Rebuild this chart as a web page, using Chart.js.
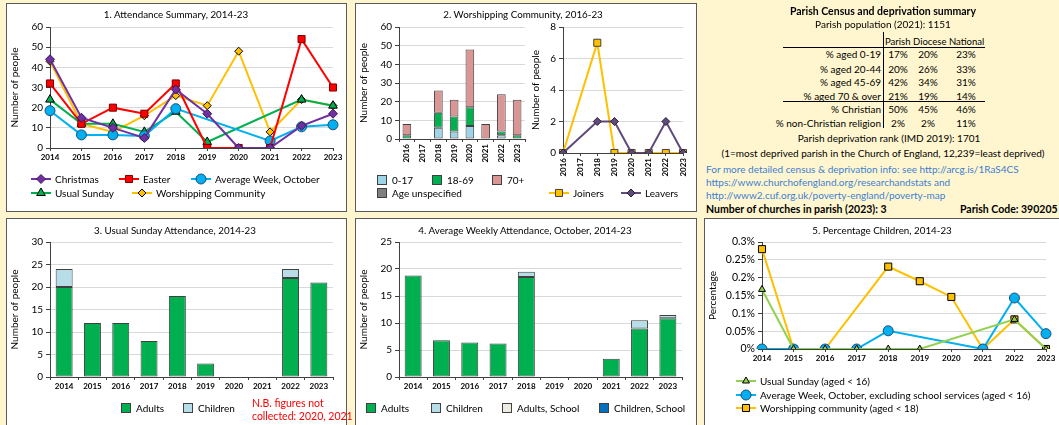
<!DOCTYPE html>
<html>
<head>
<meta charset="utf-8">
<script src="https://cdn.jsdelivr.net/npm/chart.js@4.4.0/dist/chart.umd.min.js"></script>
<style>
body { margin:0; width:1059px; height:425px; background:#fff6cf; position:relative; overflow:hidden; font-family:Lato, "DejaVu Sans", sans-serif; color:#000; }
.panel { position:absolute; background:#fff; border:1px solid #5a5a5a; box-sizing:border-box; }
.t { position:absolute; white-space:nowrap; font-size:10px; line-height:12px; }
.title { position:absolute; white-space:nowrap; font-size:9.8px; line-height:12px; transform:translateX(-50%); }
.leg { position:absolute; white-space:nowrap; font-size:10px; line-height:14px; display:flex; align-items:center; }
.box { display:inline-block; width:8px; height:8px; border:1px solid #404040; margin-right:5px; }
.blue { color:#3b7fd4; }
.b { font-weight:bold; }
canvas { position:absolute; }
</style>
</head>
<body>

<div class="panel" style="left:6px;top:3px;width:341px;height:209px"></div>
<div class="panel" style="left:355px;top:3px;width:342px;height:209px"></div>
<div class="panel" style="left:6px;top:218px;width:341px;height:220px"></div>
<div class="panel" style="left:355px;top:218px;width:342px;height:220px"></div>
<div class="panel" style="left:704px;top:218px;width:370px;height:220px"></div>

<canvas id="g1" width="339" height="206" style="left:7px;top:4px"></canvas>
<canvas id="g2a" width="180" height="206" style="left:356px;top:4px"></canvas>
<canvas id="g2b" width="168" height="206" style="left:528px;top:4px"></canvas>
<canvas id="g3" width="339" height="206" style="left:7px;top:219px"></canvas>
<canvas id="g4" width="341" height="206" style="left:356px;top:219px"></canvas>
<canvas id="g5" width="354" height="206" style="left:705px;top:219px"></canvas>

<div class="title" style="left:176px;top:8px">1. Attendance Summary, 2014-23</div>
<div class="title" style="left:523px;top:8px">2. Worshipping Community, 2016-23</div>
<div class="title" style="left:175px;top:224px">3. Usual Sunday Attendance, 2014-23</div>
<div class="title" style="left:525px;top:224px">4. Average Weekly Attendance, October, 2014-23</div>
<div class="title" style="left:882px;top:224px">5. Percentage Children, 2014-23</div>

<!-- census table -->
<div class="title b" style="left:883px;top:5px;font-size:10.5px">Parish Census and deprivation summary</div>
<div class="title" style="left:883px;top:18px;font-size:10px">Parish population (2021): 1151</div>
<div style="position:absolute;left:883px;top:32px;width:1px;height:96px;background:#000"></div>
<div style="position:absolute;left:783px;top:47px;width:202px;height:1px;background:#000"></div>
<div style="position:absolute;left:783px;top:101px;width:202px;height:1px;background:#000"></div>
<div id="table"></div>
<div class="title" style="left:889px;top:132px;font-size:10px">Parish deprivation rank (IMD 2019): 1701</div>
<div class="title" style="left:883px;top:147px;font-size:10px">(1=most deprived parish in the Church of England, 12,239=least deprived)</div>
<div class="t blue" style="left:706px;top:163px">For more detailed census &amp; deprivation info: see http://arcg.is/1RaS4CS</div>
<div class="t blue" style="left:706px;top:176px">https://www.churchofengland.org/researchandstats and</div>
<div class="t blue" style="left:706px;top:189px">http://www2.cuf.org.uk/poverty-england/poverty-map</div>
<div class="t b" style="left:706px;top:203px;font-size:10.5px">Number of churches in parish (2023): 3</div>
<div class="t b" style="left:960px;top:203px;font-size:10.5px">Parish Code: 390205</div>

<div class="t" style="left:252px;top:397px;color:#ff0000;font-size:10.5px;line-height:13px">N.B. figures not<br>collected: 2020, 2021</div>

<div id="legends"></div>

<script>
// ---- data ----
var years = ['2014', '2015', '2016', '2017', '2018', '2019', '2020', '2021', '2022', '2023'];
var christmas = [44, 15, 10, 5, 29, 17, 0, 0, 11, 17];
var easter = [32, 12, 20, 17, 32, 0, 0, 0, 54, 30];
var avgWeek = [18.5, 6.5, 6.5, 6, 19.5, null, null, 3.5, 10.5, 11.5];
var usualSunday = [24, 12, 12, 8, 18, 3, null, null, 24, 21];
var worshipComm = [43, 12, 8, 16, 26, 21, 48, 8, 24, 21];

var wcYears = ['2016', '2017', '2018', '2019', '2020', '2021', '2022', '2023'];
var wc0to17 = [null, null, 6, 4, 7, null, 2, null];
var wc18to69 = [2, null, 8, 8, 10, null, 2, 2];
var wc70plus = [6, null, 12, 9, 31, 8, 20, 19];
var wcUnspec = [null, null, null, null, null, null, null, null];
var joiners = [0, null, 7, 0, 0, 0, 0, 0];
var leavers = [0, null, 2, 2, 0, 0, 2, 0];

var usAdults = [20, 12, 12, 8, 18, 3, null, null, 22, 21];
var usChildren = [4, null, null, null, null, null, null, null, 2, null];

var awAdults = [18.8, 6.8, 6.4, 6.2, 18.5, null, null, 3.4, 9, 10.9];
var awChildren = [null, null, null, null, 1, null, null, null, 1.5, 0.6];
var awAdultsSchool = [null, null, null, null, null, null, null, null, null, null];
var awChildrenSchool = [null, null, null, null, null, null, null, null, null, null];

var pcSunday = [0.167, 0, 0, 0, 0, 0, null, null, 0.083, 0];
var pcAvgWeek = [0, 0, 0, 0, 0.051, null, null, 0, 0.143, 0.043];
var pcWorship = [0.28, 0, 0, null, 0.231, 0.19, 0.146, 0, 0.083, 0];

var tableRows = ['% aged 0-19', '% aged 20-44', '% aged 45-69', '% aged 70 & over', '% Christian', '% non-Christian religion'];
var parishPct = ['17%', '20%', '42%', '21%', '50%', '2%'];
var diocesePct = ['20%', '26%', '34%', '19%', '45%', '2%'];
var nationalPct = ['23%', '33%', '31%', '14%', '46%', '11%'];

// ---- colours ----
var GREEN = '#00b050', LBLUE = '#b7dee8', SKY = '#00b0f0', GOLD = '#ffc000', RED = '#ff0000', PURPLE = '#7030a0';
var AXIS = '#404040', GRID = '#d9d9d9';

Chart.defaults.font.family = 'Lato, "DejaVu Sans", sans-serif';
Chart.defaults.color = '#000';
Chart.defaults.animation = false;
Chart.defaults.plugins.legend.display = false;
Chart.defaults.plugins.tooltip.enabled = false;

// table
var tbl = '';
tbl += '<div class="t" style="left:885px;top:36px;font-size:9.5px">Parish</div>';
tbl += '<div class="t" style="left:913px;top:36px;font-size:9.5px">Diocese</div>';
tbl += '<div class="t" style="left:949px;top:36px;font-size:9.5px">National</div>';
var rowY = [48, 63, 76, 90, 103, 117];
for (var i = 0; i < tableRows.length; i++) {
  tbl += '<div class="t" style="right:' + (1059 - 881) + 'px;top:' + rowY[i] + 'px">' + tableRows[i].replace('&', '&amp;') + '</div>';
  tbl += '<div class="title" style="left:898px;top:' + rowY[i] + 'px;font-size:10px">' + parishPct[i] + '</div>';
  tbl += '<div class="title" style="left:928px;top:' + rowY[i] + 'px;font-size:10px">' + diocesePct[i] + '</div>';
  tbl += '<div class="title" style="left:966px;top:' + rowY[i] + 'px;font-size:10px">' + nationalPct[i] + '</div>';
}
document.getElementById('table').innerHTML = tbl;

// ---- axis helpers ----
function yAxis(max, step, width, title, fmt) {
  return {
    min: 0, max: max, stacked: true,
    ticks: { stepSize: step, font: { size: 10 }, padding: 3, callback: fmt || function (v) { return v; } },
    grid: { color: GRID, tickColor: AXIS, tickLength: 4 },
    border: { color: AXIS },
    title: { display: true, text: title, font: { size: 10 }, padding: { top: 2, bottom: 2 } },
    afterFit: function (s) { s.width = width; }
  };
}
function xAxis(offset, rot, height) {
  return {
    offset: offset, stacked: true,
    ticks: { font: { size: 8, weight: 'bold' }, maxRotation: rot, minRotation: rot, autoSkip: false, padding: 2 },
    grid: { drawOnChartArea: false, tickColor: AXIS, tickLength: 3 },
    border: { color: AXIS },
    afterFit: function (s) { s.height = height; }
  };
}
function line(label, data, color, fill, border, style, r) {
  return {
    label: label, data: data, borderColor: color, borderWidth: 2,
    pointStyle: style, pointRadius: r, pointBackgroundColor: fill,
    pointBorderColor: border, pointBorderWidth: 1, spanGaps: true, tension: 0
  };
}
function bar(label, data, color) {
  return {
    label: label, data: data, backgroundColor: color, borderColor: AXIS,
    borderWidth: 1, borderSkipped: false, barPercentage: 0.6, categoryPercentage: 1
  };
}

// ---- chart 1 ----
var x1 = xAxis(false, 0, 14);
x1.stacked = false;
var y1 = yAxis(60, 10, 43, 'Number of people');
y1.stacked = false;
var g1 = document.getElementById('g1').getContext('2d');
var myG1 = new Chart(g1, {
  type: 'line',
  data: {
    labels: years,
    datasets: [
      line('Christmas', christmas, PURPLE, PURPLE, '#3d1a5b', 'rectRot', 4.5),
      line('Easter', easter, RED, RED, '#7a0000', 'rect', 5),
      line('Average Week, October', avgWeek, SKY, SKY, '#1f4e79', 'circle', 5),
      line('Usual Sunday', usualSunday, GREEN, GREEN, '#000', 'triangle', 5),
      line('Worshipping Community', worshipComm, GOLD, GOLD, '#000', 'rectRot', 4)
    ]
  },
  options: {
    responsive: false,
    layout: { padding: { left: 0, top: 23, right: 13, bottom: 48 } },
    scales: { x: x1, y: y1 }
  }
});

// ---- chart 2 ----
var g2a = document.getElementById('g2a').getContext('2d');
var ds2a = [
  bar('0-17', wc0to17, '#9fd3e6'),
  bar('18-69', wc18to69, GREEN),
  bar('70+', wc70plus, '#d99694'),
  bar('Age unspecified', wcUnspec, '#7f7f7f')
];
ds2a.forEach(function (d) { d.barPercentage = 0.55; });
var myG2a = new Chart(g2a, {
  type: 'bar',
  data: { labels: wcYears, datasets: ds2a },
  options: {
    responsive: false,
    layout: { padding: { left: 0, top: 23, right: 11, bottom: 43 } },
    scales: { x: xAxis(true, 90, 28), y: yAxis(60, 10, 43, 'Number of people') }
  }
});

var x2b = xAxis(false, 90, 28);
x2b.stacked = false;
var y2b = yAxis(8, 2, 35, 'Number of people');
y2b.stacked = false;
var g2b = document.getElementById('g2b').getContext('2d');
var myG2b = new Chart(g2b, {
  type: 'line',
  data: {
    labels: wcYears,
    datasets: [
      line('Leavers', leavers, '#604a7b', '#604a7b', '#2b2038', 'rectRot', 4),
      line('Joiners', joiners, GOLD, GOLD, '#404040', 'rect', 5)
    ]
  },
  options: {
    responsive: false,
    layout: { padding: { left: 0, top: 23, right: 13, bottom: 29 } },
    scales: { x: x2b, y: y2b }
  }
});

// ---- chart 3 ----
var g3 = document.getElementById('g3').getContext('2d');
var myG3 = new Chart(g3, {
  type: 'bar',
  data: {
    labels: years,
    datasets: [bar('Adults', usAdults, GREEN), bar('Children', usChildren, LBLUE)]
  },
  options: {
    responsive: false,
    layout: { padding: { left: 0, top: 23, right: 13, bottom: 34 } },
    scales: { x: xAxis(true, 0, 14), y: yAxis(30, 5, 43, 'Number of people') }
  }
});

// ---- chart 4 ----
var g4 = document.getElementById('g4').getContext('2d');
var myG4 = new Chart(g4, {
  type: 'bar',
  data: {
    labels: years,
    datasets: [
      bar('Adults', awAdults, GREEN),
      bar('Children', awChildren, LBLUE),
      bar('Adults, School', awAdultsSchool, '#eeece1'),
      bar('Children, School', awChildrenSchool, '#0070c0')
    ]
  },
  options: {
    responsive: false,
    layout: { padding: { left: 0, top: 23, right: 15, bottom: 34 } },
    scales: { x: xAxis(true, 0, 14), y: yAxis(25, 5, 43, 'Number of people') }
  }
});

// ---- chart 5 ----
var g5 = document.getElementById('g5').getContext('2d');
var y5 = yAxis(0.3, 0.05, 57, 'Percentage', function (v) { return +v.toFixed(2) + '%'; });
y5.stacked = false;
y5.ticks.font = { size: 10.5 };
var x5 = xAxis(false, 0, 14);
x5.stacked = false;
var myG5 = new Chart(g5, {
  type: 'line',
  data: {
    labels: years,
    datasets: [
      line('Usual Sunday (aged < 16)', pcSunday, '#92d050', '#92d050', '#000', 'triangle', 4),
      line('Average Week, October, excluding school services (aged < 16)', pcAvgWeek, SKY, SKY, '#1f4e79', 'circle', 5),
      line('Worshipping community (aged < 18)', pcWorship, GOLD, GOLD, '#000', 'rect', 5)
    ]
  },
  options: {
    responsive: false,
    layout: { padding: { left: 0, top: 23, right: 13, bottom: 62 } },
    scales: { x: x5, y: y5 }
  }
});

// ---- legends (html, icons drawn with Chart.js point helper) ----
function lineIcon(ds) {
  var c = document.createElement('canvas');
  c.width = 20; c.height = 12;
  c.style.position = 'static';
  c.style.marginRight = '4px';
  var ctx = c.getContext('2d');
  ctx.strokeStyle = ds.borderColor; ctx.lineWidth = 2;
  ctx.beginPath(); ctx.moveTo(0, 6); ctx.lineTo(20, 6); ctx.stroke();
  ctx.fillStyle = ds.pointBackgroundColor; ctx.strokeStyle = ds.pointBorderColor; ctx.lineWidth = 1;
  Chart.helpers.drawPoint(ctx, { pointStyle: ds.pointStyle, radius: ds.pointRadius, rotation: 0, borderWidth: 1 }, 10, 6);
  return c;
}
function addLegend(chart, idx, x, y) {
  var ds = chart.data.datasets[idx];
  var d = document.createElement('div');
  d.className = 'leg';
  d.style.left = x + 'px'; d.style.top = (y - 7) + 'px';
  if (chart.config.type === 'line') {
    d.appendChild(lineIcon(ds));
  } else {
    var b = document.createElement('span');
    b.className = 'box'; b.style.background = ds.backgroundColor;
    d.appendChild(b);
  }
  d.appendChild(document.createTextNode(ds.label));
  document.getElementById('legends').appendChild(d);
}
addLegend(myG1, 0, 31, 179);
addLegend(myG1, 1, 119, 179);
addLegend(myG1, 2, 191, 179);
addLegend(myG1, 3, 31, 193);
addLegend(myG1, 4, 132, 193);

addLegend(myG2a, 0, 377, 180);
addLegend(myG2a, 1, 432, 180);
addLegend(myG2a, 2, 492, 180);
addLegend(myG2a, 3, 377, 193);
addLegend(myG2b, 1, 549, 193);
addLegend(myG2b, 0, 621, 193);

addLegend(myG3, 0, 121, 408);
addLegend(myG3, 1, 183, 408);

addLegend(myG4, 0, 366, 408);
addLegend(myG4, 1, 431, 408);
addLegend(myG4, 2, 502, 408);
addLegend(myG4, 3, 599, 408);

addLegend(myG5, 0, 736, 381);
addLegend(myG5, 1, 736, 395);
addLegend(myG5, 2, 736, 408);
</script>
</body>
</html>
